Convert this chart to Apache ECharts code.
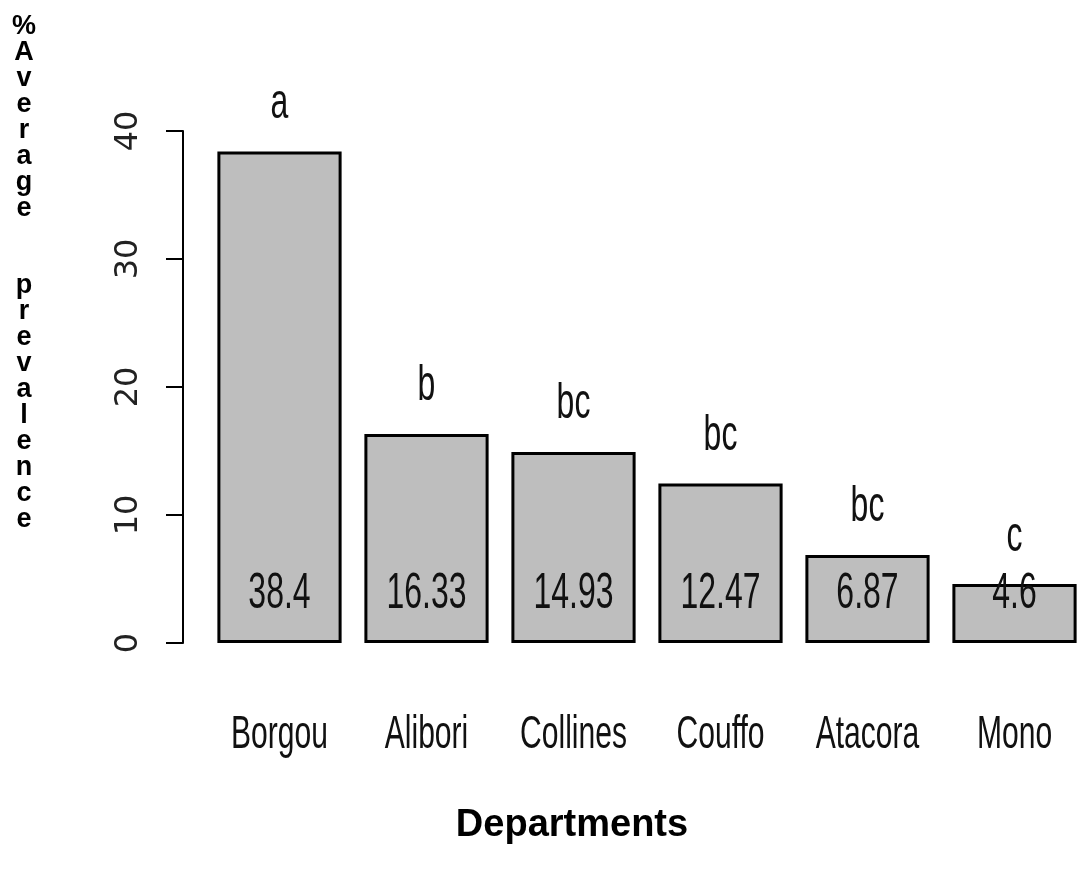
<!DOCTYPE html>
<html>
<head>
<meta charset="utf-8">
<script src="https://cdn.jsdelivr.net/npm/echarts@6/dist/echarts.min.js"></script>
<style>
  html, body { margin: 0; padding: 0; background: #ffffff; }
  #chart { width: 1088px; height: 888px; }
</style>
</head>
<body>
<div id="chart"></div>
<script>
// Average prevalence by department, with significance group letters
const departments = ['Borgou', 'Alibori', 'Collines', 'Couffo', 'Atacora', 'Mono'];
const prevalence = [38.4, 16.33, 14.93, 12.47, 6.87, 4.6];
const groupLetters = ['a', 'b', 'bc', 'bc', 'bc', 'c'];
const yMin = 0, yMax = 40, yStep = 10;

const yTitle = '%Average  prevalence'.split('').join('\n');
const xTitle = 'Departments';

// value labels sit at a fixed height inside the bars; letters sit just above each bar (in % units)
const valueLabelLevel = 3.8;
const letterGap = 3.7;

// condensed look of the plot text: regular sans face squeezed horizontally
const plotFont = '"Liberation Sans", Arial, sans-serif';
const squeeze = 0.64;

const chart = echarts.init(document.getElementById('chart'), null, { renderer: 'canvas' });

chart.setOption({
  backgroundColor: '#ffffff',
  animation: false,
  grid: { left: 206, top: 131, width: 888, bottom: 245, containLabel: false },
  xAxis: {
    type: 'category',
    data: departments,
    axisLine: { show: false },
    axisTick: { show: false },
    axisLabel: { show: false }
  },
  yAxis: {
    type: 'value',
    min: yMin,
    max: yMax,
    interval: yStep,
    offset: 23,
    splitLine: { show: false },
    axisLine: { show: true, lineStyle: { color: '#000', width: 2 } },
    axisTick: { show: true, length: 17, lineStyle: { color: '#000', width: 2 } },
    axisLabel: {
      rotate: 90,
      margin: 38,
      fontFamily: '"DejaVu Sans", sans-serif',
      fontSize: 32,
      color: '#222'
    }
  },
  series: [
    {
      type: 'bar',
      data: prevalence,
      barCategoryGap: '15.5%',
      itemStyle: { color: '#bebebe', borderColor: '#000', borderWidth: 3 },
      silent: true
    }
  ]
});

// text placed through the chart's own scales
function squeezedText(x, y, text, size) {
  return {
    type: 'text',
    x: x,
    y: y,
    scaleX: squeeze,
    z: 10,
    silent: true,
    style: {
      text: text,
      font: size + 'px ' + plotFont,
      align: 'center',
      verticalAlign: 'middle',
      fill: '#111'
    }
  };
}

const plotText = [];
departments.forEach((name, i) => {
  const [cx, baseY] = chart.convertToPixel({ gridIndex: 0 }, [i, 0]);
  const valueY = chart.convertToPixel({ gridIndex: 0 }, [i, valueLabelLevel])[1];
  const letterY = chart.convertToPixel({ gridIndex: 0 }, [i, prevalence[i] + letterGap])[1];
  plotText.push(squeezedText(cx, baseY + 92, name, 47));
  plotText.push(squeezedText(cx, valueY, String(prevalence[i]), 50));
  plotText.push(squeezedText(cx, letterY, groupLetters[i], 50));
});

chart.setOption({
  graphic: plotText.concat([
    {
      type: 'text',
      x: 24,
      y: 14,
      style: {
        text: yTitle,
        font: 'bold 27px "Liberation Sans", Arial, sans-serif',
        lineHeight: 25.9,
        align: 'center',
        verticalAlign: 'top',
        fill: '#000'
      }
    },
    {
      type: 'text',
      x: 572,
      y: 826,
      style: {
        text: xTitle,
        font: 'bold 38px "Liberation Sans", Arial, sans-serif',
        align: 'center',
        verticalAlign: 'middle',
        fill: '#000'
      }
    }
  ])
});
</script>
</body>
</html>
